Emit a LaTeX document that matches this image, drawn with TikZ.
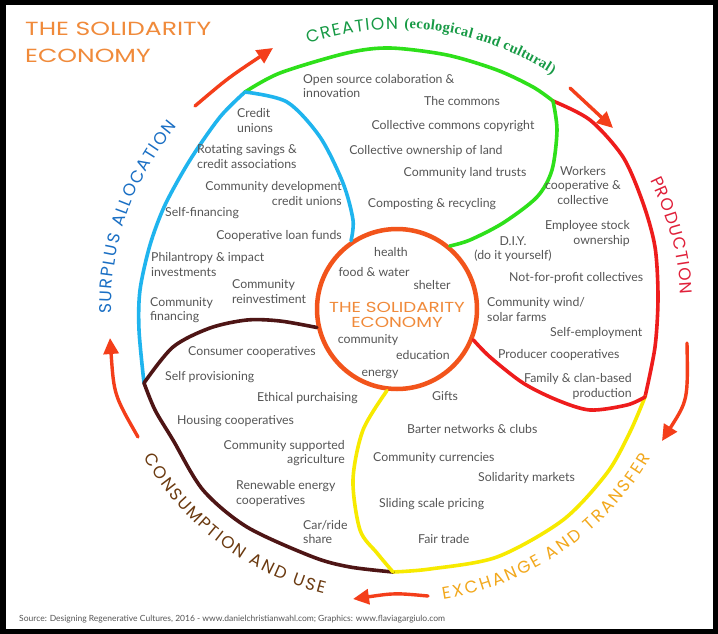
\documentclass[tikz,border=0pt]{standalone}
\usepackage{fontspec}
\usepackage{graphicx}
\setmainfont{Lato}
\newfontfamily\lato{Lato}
\newfontfamily\hand{Poppins}
\newfontfamily\serifb{Liberation Serif}[BoldFont={Liberation Serif Bold}]
\usetikzlibrary{arrows.meta,decorations.text}
\definecolor{cblue}{HTML}{1FB4EE}
\definecolor{cgreen}{HTML}{2EE01A}
\definecolor{cred}{HTML}{EE1C1C}
\definecolor{cyellow}{HTML}{F7EA00}
\definecolor{cbrown}{HTML}{4E1515}
\definecolor{ccirc}{HTML}{F2541B}
\definecolor{carrow}{HTML}{F43E1A}
\definecolor{ctitle}{HTML}{F08A3A}
\definecolor{lblue}{HTML}{1A6FC4}
\definecolor{lgreen}{HTML}{179A45}
\definecolor{lred}{HTML}{E0203A}
\definecolor{lyellow}{HTML}{F2A81D}
\definecolor{lbrown}{HTML}{6B3A10}
\definecolor{tgrey}{HTML}{555555}
\tikzset{
  txt/.style={font=\lato\fontsize{12.3}{14.5}\selectfont, text=tgrey, inner sep=0pt},
  txtL/.style={txt, align=left, anchor=west},
  txtR/.style={txt, align=right, anchor=east},
  txtC/.style={txt, align=center},
  curve/.style={line width=3.6pt, line cap=round, line join=round},
  arr/.style={draw=carrow, line width=3.4pt, line cap=round, -{Triangle[length=16pt,width=15pt]}},
  arclabel/.style={decorate, decoration={text along path, text align={fit to path}}},
}
\begin{document}
\begin{tikzpicture}[x=1pt,y=-1pt]
\useasboundingbox (0,0) rectangle (718,634);
\fill[black] (0,0) rectangle (718,634);
\fill[white] (6,5) rectangle (713,629);

% junctions
\coordinate (J1) at (245,92);
\coordinate (J2) at (553,101);
\coordinate (J3) at (645,397);
\coordinate (J4) at (393,572);
\coordinate (J5) at (144,383);

\node[circle, draw=ccirc, line width=4.5pt, minimum size=160pt, inner sep=0pt] (C) at (397,309) {};

% outer ring
\draw[curve, cblue] plot[smooth] coordinates {(J5) (139,330) (140,290) (150,245) (165,205) (190,160) (220,117) (J1)};
\draw[curve, cgreen] plot[smooth] coordinates {(J1) (280,73) (347,53) (390,48) (447,55) (497,70) (533,87) (J2)};
\draw[curve, cred] plot[smooth] coordinates {(J2) (590,120) (623,157) (643,203) (655,247) (658,297) (655,347) (J3)};
\draw[curve, cyellow] plot[smooth] coordinates {(J3) (630,432) (607,473) (563,520) (497,557) (430,569) (J4)};
\draw[curve, cbrown] plot[smooth] coordinates {(J4) (350,567) (313,557) (247,527) (203,490) (173,440) (155,410) (J5)};

% spokes
\draw[curve, cblue] plot[smooth] coordinates {(J1) (287,102) (320,137) (343,183) (353,220) (C.124)};
\draw[curve, cgreen] plot[smooth] coordinates {(J2) (557,130) (552,170) (537,197) (503,223) (470,240) (C.50)};
\draw[curve, cred] plot[smooth] coordinates {(C.-22) (490,357) (523,383) (557,400) (590,410) (627,405) (J3)};
\draw[curve, cyellow] plot[smooth] coordinates {(C.-97) (363,430) (353,480) (360,530) (377,553) (J4)};
\draw[curve, cbrown] plot[smooth] coordinates {(J5) (173,347) (210,328) (247,320) (280,321) (C.-167)};

% arrows
\coordinate (a1s) at (195,106); \coordinate (a1e) at (273,48);
\coordinate (a2s) at (570,88);  \coordinate (a2e) at (613,128);
\coordinate (a3s) at (687,343); \coordinate (a3e) at (662,441);
\coordinate (a4s) at (428,596); \coordinate (a4e) at (353,599);
\coordinate (a5s) at (138,437); \coordinate (a5e) at (110,338);
\draw[arr] (a1s) .. controls (228,78) .. (a1e);
\draw[arr] (a2s) -- (a2e);
\draw[arr] (a3s) .. controls (688,400) .. (a3e);
\draw[arr] (a4s) .. controls (395,593) .. (a4e);
\draw[arr] (a5s) .. controls (114,395) .. (a5e);

% arc labels
\path[arclabel, decoration={text={|\hand\fontsize{17}{17}\selectfont\color{lgreen}|CREATION}}]
  (397,309) ++(-108.5:280) arc[start angle=-108.5, end angle=-89.8, radius=280];
\path[arclabel, decoration={text={|\serifb\bfseries\fontsize{14.5}{15}\selectfont\color{lgreen}|(ecological and cultural)}}]
  (397,309) ++(-88.5:281) arc[start angle=-88.5, end angle=-56.5, radius=281];
\path[arclabel, decoration={text={|\hand\fontsize{17}{17}\selectfont\color{lred}|PRODUCTION}}]
  (397,309) ++(-27:284) arc[start angle=-27, end angle=-2.9, radius=284];
\path[arclabel, decoration={text={|\hand\fontsize{17}{17}\selectfont\color{lyellow}|EXCHANGE AND TRANSFER}}]
  (397,309) ++(81:294) arc[start angle=81, end angle=30.3, radius=294];
\path[arclabel, decoration={text={|\hand\fontsize{17}{17}\selectfont\color{lbrown}|CONSUMPTION AND USE}}]
  (397,309) ++(-210.4:294) arc[start angle=-210.4, end angle=-255.6, radius=294];
\path[arclabel, decoration={text={|\hand\fontsize{17}{17}\selectfont\color{lblue}|SURPLUS ALLOCATION}}]
  (397,309) ++(-181:286) arc[start angle=-181, end angle=-140.2, radius=286];

% title
\node[font=\hand\fontsize{19}{27}\selectfont, text=ctitle, align=left, anchor=west, inner sep=0pt] (title) at (25,42.5) {\scalebox{1.32}[1]{THE SOLIDARITY}\\\scalebox{1.32}[1]{ECONOMY}};

% centre circle texts
\node[txtC] (c1) at (391,252) {health};
\node[txtC] (c2) at (374,272) {food \& water};
\node[txtC] (c3) at (432,285) {shelter};
\node[font=\hand\fontsize{14.5}{15}\selectfont, text=ctitle, align=center, inner sep=0pt] (c4) at (397,314.5) {\scalebox{1.26}[1]{THE SOLIDARITY}\\\scalebox{1.26}[1]{ECONOMY}};
\node[txtC] (c5) at (368,340) {community};
\node[txtC] (c6) at (423,355) {education};
\node[txtC] (c7) at (380,374) {energy};

% creation
\node[txtL] (g1) at (303,86) {Open source colaboration \&\\innovation};
\node[txtC] (g2) at (462,101) {The commons};
\node[txtC] (g3) at (453,126) {Collective commons copyright};
\node[txtC] (g4) at (426,151) {Collective ownership of land};
\node[txtC] (g5) at (465,173) {Community land trusts};
\node[txtC] (g6) at (432,204) {Composting \& recycling};

% surplus allocation
\node[txtL] (b1) at (237,120.5) {Credit\\unions};
\node[txtL] (b2) at (197,156.5) {Rotating savings \&\\credit associations};
\node[txtR] (b3) at (342,193.5) {Community development\\credit unions};
\node[txtL] (b4) at (165,213) {Self-financing};
\node[txtR] (b5) at (342,236) {Cooperative loan funds};
\node[txtL] (b6) at (151,264.5) {Philantropy \& impact\\investments};
\node[txtL] (b7) at (232,291.5) {Community\\reinvestiment};
\node[txtL] (b8) at (150,310) {Community\\financing};

% consumption
\node[txtL] (r1) at (188,352) {Consumer cooperatives};
\node[txtL] (r2) at (165,377) {Self provisioning};
\node[txtL] (r3) at (257,398) {Ethical purchaising};
\node[txtL] (r4) at (177,421) {Housing cooperatives};
\node[txtR] (r5) at (345,453) {Community supported\\agriculture};
\node[txtL] (r6) at (236,493.5) {Renewable energy\\cooperatives};
\node[txtL] (r7) at (303,532) {Car/ride\\share};

% exchange
\node[txtL] (y1) at (432,396) {Gifts};
\node[txtL] (y2) at (407,429) {Barter networks \& clubs};
\node[txtL] (y3) at (373,458) {Community currencies};
\node[txtL] (y4) at (478,478) {Solidarity markets};
\node[txtL] (y5) at (379,504) {Sliding scale pricing};
\node[txtL] (y6) at (418,539) {Fair trade};

% production
\node[txtC] (p1) at (583,185.5) {Workers\\cooperative \&\\collective};
\node[txtR] (p2) at (630,233.5) {Employee stock\\ownership};
\node[txtC] (p3) at (513,249) {D.I.Y.\\(do it yourself)};
\node[txtL] (p4) at (509,278) {Not-for-profit collectives};
\node[txtL] (p5) at (487,309.5) {Community wind/\\solar farms};
\node[txtL] (p6) at (550,333) {Self-employment};
\node[txtL] (p7) at (498,355) {Producer cooperatives};
\node[txtR] (p8) at (632,386.5) {Family \& clan-based\\production};

% source
\node[font=\lato\fontsize{8.5}{10}\selectfont, text=tgrey, anchor=west, inner sep=0pt] (src) at (19,619) {Source: Designing Regenerative Cultures, 2016 - www.danielchristianwahl.com; Graphics: www.flaviagargiulo.com};
\end{tikzpicture}
\end{document}
